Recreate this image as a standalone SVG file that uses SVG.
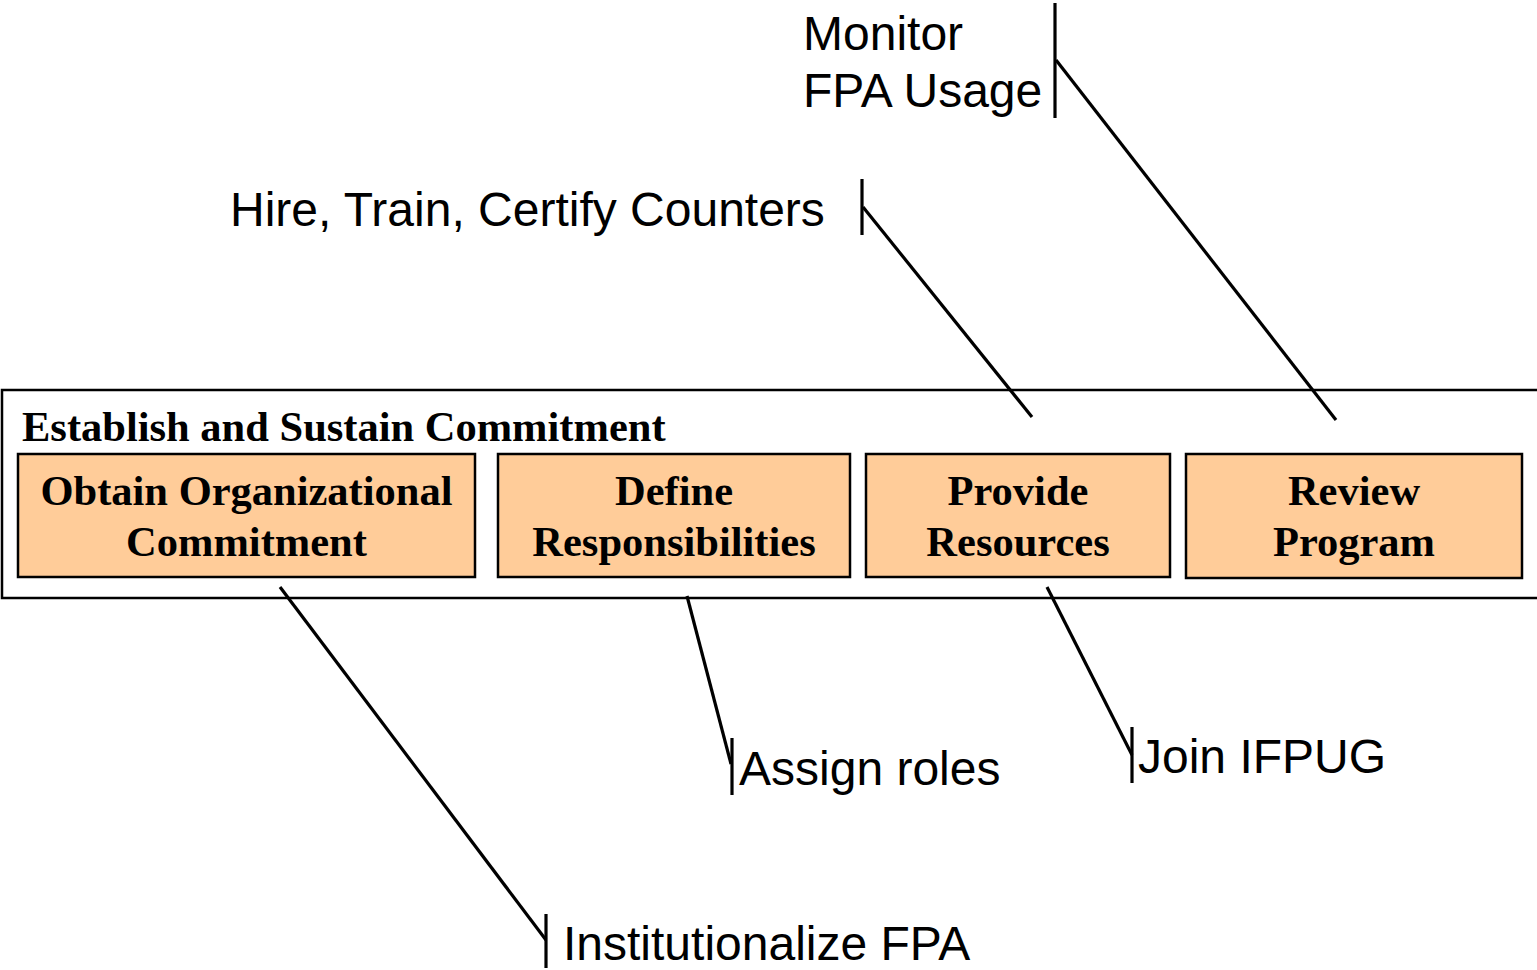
<svg xmlns="http://www.w3.org/2000/svg" width="1537" height="970" viewBox="0 0 1537 970">
<style>
.box{fill:#FFCC99;stroke:#000;stroke-width:2.5}
.bt{font-family:"Liberation Serif","Times New Roman",serif;font-weight:bold;font-size:42.5px;fill:#000;text-anchor:middle}
.lbl{font-family:"Liberation Sans",Arial,sans-serif;font-size:48px;fill:#000}
.ln{stroke:#000;stroke-width:3.2;fill:none}
</style>
<rect width="1537" height="970" fill="#fff"/>
<g id="frame">
<rect x="2" y="390" width="1545" height="208" fill="none" stroke="#000" stroke-width="2.5"/>
<text x="22" y="441" font-family="'Liberation Serif','Times New Roman',serif" font-weight="bold" font-size="42.5" fill="#000">Establish and Sustain Commitment</text>
</g>
<g id="node-obtain">
<rect class="box" x="18" y="454" width="457" height="123"/>
<text class="bt" x="246.5" y="505">Obtain Organizational</text>
<text class="bt" x="246.5" y="556">Commitment</text>
</g>
<g id="node-define">
<rect class="box" x="498" y="454" width="352" height="123"/>
<text class="bt" x="674" y="505">Define</text>
<text class="bt" x="674" y="556">Responsibilities</text>
</g>
<g id="node-provide">
<rect class="box" x="866" y="454" width="304" height="123"/>
<text class="bt" x="1018" y="505">Provide</text>
<text class="bt" x="1018" y="556">Resources</text>
</g>
<g id="node-review">
<rect class="box" x="1186" y="454" width="336" height="124"/>
<text class="bt" x="1354" y="505">Review</text>
<text class="bt" x="1354" y="556">Program</text>
</g>
<g id="connectors">
<line class="ln" x1="1055" y1="3" x2="1055" y2="118"/>
<line class="ln" x1="1056" y1="60" x2="1336" y2="420"/>
<line class="ln" x1="862" y1="179" x2="862" y2="235"/>
<line class="ln" x1="863" y1="207" x2="1032" y2="417"/>
<line class="ln" x1="280" y1="587" x2="546" y2="940"/>
<line class="ln" x1="546" y1="914" x2="546" y2="968"/>
<line class="ln" x1="687" y1="596" x2="731" y2="764"/>
<line class="ln" x1="732" y1="738" x2="732" y2="795"/>
<line class="ln" x1="1047" y1="587" x2="1132" y2="755"/>
<line class="ln" x1="1132" y1="727" x2="1132" y2="783"/>
</g>
<g id="labels">
<text class="lbl" x="803" y="50">Monitor</text>
<text class="lbl" x="803" y="107">FPA Usage</text>
<text class="lbl" x="230" y="226">Hire, Train, Certify Counters</text>
<text class="lbl" x="563" y="960">Institutionalize FPA</text>
<text class="lbl" x="739" y="785">Assign roles</text>
<text class="lbl" x="1138" y="773">Join IFPUG</text>
</g>
</svg>
